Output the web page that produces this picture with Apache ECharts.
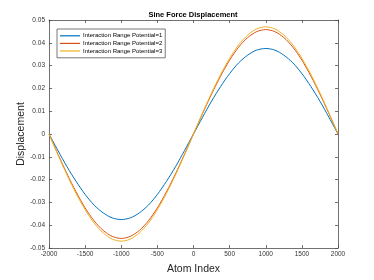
<!DOCTYPE html>
<html><head><meta charset="utf-8">
<script src="https://cdn.jsdelivr.net/npm/echarts@6/dist/echarts.min.js"></script>
<style>html,body{margin:0;padding:0;background:#fff}#c{width:374px;height:280px}</style>
</head><body><div id="c"></div>
<script>
const xValues = [-2000,-1875,-1750,-1625,-1500,-1375,-1250,-1125,-1000,-875,-750,-625,-500,-375,-250,-125,0,125,250,375,500,625,750,875,1000,1125,1250,1375,1500,1625,1750,1875,2000];
const series1 = [0,-0.0073,-0.0144,-0.0208,-0.0265,-0.0312,-0.0346,-0.0368,-0.0375,-0.0368,-0.0346,-0.0312,-0.0265,-0.0208,-0.0144,-0.0073,0,0.0073,0.0144,0.0208,0.0265,0.0312,0.0346,0.0368,0.0375,0.0368,0.0346,0.0312,0.0265,0.0208,0.0144,0.0073,0];
const series2 = [0,-0.0089,-0.0175,-0.0254,-0.0324,-0.0381,-0.0423,-0.0449,-0.0458,-0.0449,-0.0423,-0.0381,-0.0324,-0.0254,-0.0175,-0.0089,0,0.0089,0.0175,0.0254,0.0324,0.0381,0.0423,0.0449,0.0458,0.0449,0.0423,0.0381,0.0324,0.0254,0.0175,0.0089,0];
const series3 = [0,-0.0092,-0.0180,-0.0261,-0.0332,-0.0391,-0.0434,-0.0461,-0.0470,-0.0461,-0.0434,-0.0391,-0.0332,-0.0261,-0.0180,-0.0092,0,0.0092,0.0180,0.0261,0.0332,0.0391,0.0434,0.0461,0.0470,0.0461,0.0434,0.0391,0.0332,0.0261,0.0180,0.0092,0];
const names = ['Interaction Range Potential=1','Interaction Range Potential=2','Interaction Range Potential=3'];
const colors = ['#0072BD','#D95319','#EDB120'];
const font = 'Liberation Sans, Arial, sans-serif';
const axisCol = '#4d4d4d';
const chart = echarts.init(document.getElementById('c'));
function pairs(ys){return xValues.map((x,i)=>[x,ys[i]]);}
const mk = (n,ys,c)=>({name:n,type:'line',data:pairs(ys),smooth:0.3,symbol:'none',lineStyle:{color:c,width:1},itemStyle:{color:c},xAxisIndex:0,yAxisIndex:0});
chart.setOption({
  animation:false,
  title:{text:'Sine Force Displacement',left:193,textAlign:'center',top:10,textStyle:{fontFamily:font,fontSize:7.5,fontWeight:'bold',color:'#000',lineHeight:9},padding:0},
  grid:{left:49,right:36,top:20,bottom:31},
  legend:{orient:'vertical',left:57,top:29,padding:[3,3,3,3],itemGap:0,itemWidth:20,itemHeight:1.2,icon:'rect',
    borderColor:'#555',borderWidth:0.8,backgroundColor:'#fff',
    textStyle:{fontFamily:font,fontSize:6,color:'#000',lineHeight:7.6,padding:[0,0,0,-2]},data:names},
  xAxis:[
    {type:'value',min:-2000,max:2000,interval:500,name:'Atom Index',nameLocation:'middle',nameGap:16,nameMoveOverlap:false,
     nameTextStyle:{fontFamily:font,fontSize:10.5,color:'#262626'},
     axisLine:{show:true,onZero:false,lineStyle:{color:axisCol,width:0.8}},
     axisTick:{show:true,inside:true,length:3,lineStyle:{color:axisCol,width:0.8}},
     axisLabel:{fontFamily:font,fontSize:6.5,color:'#333',margin:3,formatter:v=>String(v)},splitLine:{show:false}},
    {type:'value',position:'top',min:-2000,max:2000,interval:500,
     axisLine:{show:true,onZero:false,lineStyle:{color:axisCol,width:0.8}},
     axisTick:{show:true,inside:true,length:3,lineStyle:{color:axisCol,width:0.8}},
     axisLabel:{show:false},splitLine:{show:false}}
  ],
  yAxis:[
    {type:'value',min:-0.05,max:0.05,interval:0.01,name:'Displacement',nameLocation:'middle',nameGap:22,nameMoveOverlap:false,
     nameTextStyle:{fontFamily:font,fontSize:10.5,color:'#262626'},
     axisLine:{show:true,onZero:false,lineStyle:{color:axisCol,width:0.8}},
     axisTick:{show:true,inside:true,length:3,lineStyle:{color:axisCol,width:0.8}},
     axisLabel:{fontFamily:font,fontSize:6.5,color:'#333',margin:4,formatter:v=>{const r=Math.round(v*100)/100;return r===0?'0':r.toFixed(2);}},
     splitLine:{show:false}},
    {type:'value',position:'right',min:-0.05,max:0.05,interval:0.01,
     axisLine:{show:true,onZero:false,lineStyle:{color:axisCol,width:0.8}},
     axisTick:{show:true,inside:true,length:3,lineStyle:{color:axisCol,width:0.8}},
     axisLabel:{show:false},splitLine:{show:false}}
  ],
  series:[mk(names[0],series1,colors[0]),mk(names[1],series2,colors[1]),mk(names[2],series3,colors[2])]
});
</script></body></html>
